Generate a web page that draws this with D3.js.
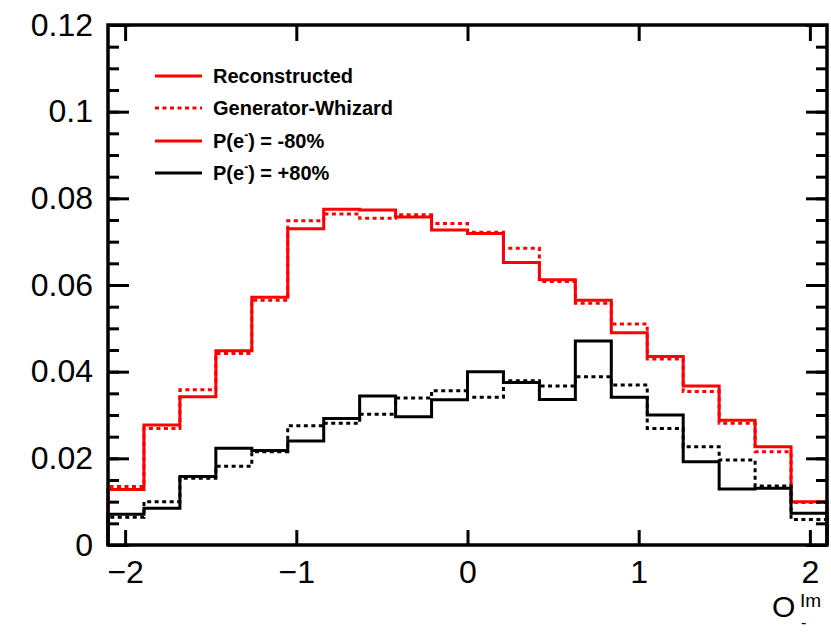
<!DOCTYPE html>
<html>
<head>
<meta charset="utf-8">
<script src="https://cdn.jsdelivr.net/npm/d3@7"></script>
<style>
  html, body { margin: 0; padding: 0; background: #fff; }
  svg { display: block; }
  text { font-family: "Liberation Sans", Arial, Helvetica, sans-serif; }
</style>
</head>
<body>
<svg id="chart" width="831" height="632"></svg>
<script>
// ---- data ----
const binEdges = [-2.1, -1.89, -1.68, -1.47, -1.26, -1.05, -0.84, -0.63, -0.42, -0.21, 0,
                  0.21, 0.42, 0.63, 0.84, 1.05, 1.26, 1.47, 1.68, 1.89, 2.1];
const redReco  = [0.0128, 0.0277, 0.0342, 0.0448, 0.0572, 0.0730, 0.0775, 0.0773, 0.0757, 0.0727,
                  0.0719, 0.0652, 0.0612, 0.0565, 0.0490, 0.0435, 0.0367, 0.0288, 0.0227, 0.0100];
const redGen   = [0.0135, 0.0269, 0.0358, 0.0442, 0.0565, 0.0748, 0.0764, 0.0754, 0.0762, 0.0742,
                  0.0722, 0.0685, 0.0608, 0.0558, 0.0510, 0.0429, 0.0354, 0.0281, 0.0215, 0.0098];
const blackReco = [0.0071, 0.0085, 0.0158, 0.0223, 0.0218, 0.0240, 0.0292, 0.0344, 0.0296, 0.0335,
                   0.0400, 0.0375, 0.0336, 0.0471, 0.0341, 0.0300, 0.0192, 0.0129, 0.0131, 0.0073];
const blackGen  = [0.0064, 0.0100, 0.0154, 0.0182, 0.0215, 0.0275, 0.0281, 0.0302, 0.0339, 0.0356,
                   0.0341, 0.0379, 0.0367, 0.0388, 0.0369, 0.0269, 0.0227, 0.0196, 0.0136, 0.0059];
const xTicks = [-2, -1, 0, 1, 2];
const xTickLabels = ["\u22122", "\u22121", "0", "1", "2"];
const yTicks = [0, 0.02, 0.04, 0.06, 0.08, 0.1, 0.12];
const yTickLabels = ["0", "0.02", "0.04", "0.06", "0.08", "0.1", "0.12"];
const yMinorTicks = d3.range(0, 0.1201, 0.005);
const legendLabels = ["Reconstructed", "Generator-Whizard", "P(e-) = -80%", "P(e-) = +80%"];

// ---- layout ----
const W = 831, H = 632;
const L = 108, T = 25, R = 827, B = 545;
const svg = d3.select("#chart");
svg.append("rect").attr("width", W).attr("height", H).attr("fill", "#fff");

const x = d3.scaleLinear().domain([-2.1, 2.1]).range([L, R]);
const y = d3.scaleLinear().domain([0, 0.12]).range([B, T]);

function histPoints(vals) {
  const pts = [[binEdges[0], 0]];
  vals.forEach((v, i) => { pts.push([binEdges[i], v]); pts.push([binEdges[i + 1], v]); });
  pts.push([binEdges[binEdges.length - 1], 0]);
  return pts;
}
const line = d3.line().x(d => x(d[0])).y(d => y(d[1]));

const series = [
  { vals: redReco, color: "#ff0000", dash: null },
  { vals: redGen, color: "#ff0000", dash: "4,3.5" },
  { vals: blackReco, color: "#000000", dash: null },
  { vals: blackGen, color: "#000000", dash: "4,3.5" }
];
const gPlot = svg.append("g");
series.forEach(s => {
  gPlot.append("path")
    .attr("d", line(histPoints(s.vals)))
    .attr("fill", "none")
    .attr("stroke", s.color)
    .attr("stroke-width", 3)
    .attr("stroke-dasharray", s.dash)
    .attr("stroke-linejoin", "miter");
});

// ---- axes ----
function styleAxis(g) {
  g.select(".domain").remove();
  g.selectAll(".tick line").attr("stroke", "#000").attr("stroke-width", 3);
  g.selectAll("text").attr("fill", "#000").style("font-size", "32px")
    .style("font-family", "'Liberation Sans', Arial, sans-serif");
}
// bottom
svg.append("g").attr("transform", `translate(0,${B})`)
  .call(d3.axisBottom(x).tickValues(xTicks).tickFormat((d, i) => xTickLabels[i])
        .tickSizeInner(-15).tickSizeOuter(0).tickPadding(15))
  .call(styleAxis);
// top
svg.append("g").attr("transform", `translate(0,${T})`)
  .call(d3.axisTop(x).tickValues(xTicks).tickFormat("").tickSizeInner(-16).tickSizeOuter(0))
  .call(styleAxis);
// left major
svg.append("g").attr("transform", `translate(${L},0)`)
  .call(d3.axisLeft(y).tickValues(yTicks).tickFormat((d, i) => yTickLabels[i])
        .tickSizeInner(-21).tickSizeOuter(0).tickPadding(15))
  .call(styleAxis);
// left minor
svg.append("g").attr("transform", `translate(${L},0)`)
  .call(d3.axisLeft(y).tickValues(yMinorTicks).tickFormat("").tickSizeInner(-11).tickSizeOuter(0))
  .call(styleAxis);
// right major + minor
svg.append("g").attr("transform", `translate(${R},0)`)
  .call(d3.axisRight(y).tickValues(yTicks).tickFormat("").tickSizeInner(-21).tickSizeOuter(0))
  .call(styleAxis);
svg.append("g").attr("transform", `translate(${R},0)`)
  .call(d3.axisRight(y).tickValues(yMinorTicks).tickFormat("").tickSizeInner(-11).tickSizeOuter(0))
  .call(styleAxis);

// frame
svg.append("rect").attr("x", L).attr("y", T).attr("width", R - L).attr("height", B - T)
  .attr("fill", "none").attr("stroke", "#000").attr("stroke-width", 3.5);

// ---- axis title O^{Im}_{-} ----
const title = svg.append("g").attr("fill", "#000");
title.append("text").attr("x", 772).attr("y", 617).style("font-size", "30px").text("O");
title.append("text").attr("x", 800).attr("y", 607).style("font-size", "19px").text("Im");
title.append("text").attr("x", 801).attr("y", 628).style("font-size", "16px").text("-");

// ---- legend ----
const legend = svg.append("g");
const legItems = [
  { color: "#ff0000", dash: null, ly: 76 },
  { color: "#ff0000", dash: "4,3.5", ly: 108 },
  { color: "#ff0000", dash: null, ly: 141 },
  { color: "#000000", dash: null, ly: 173 }
];
legItems.forEach((it, i) => {
  legend.append("line").attr("x1", 155).attr("x2", 202).attr("y1", it.ly).attr("y2", it.ly)
    .attr("stroke", it.color).attr("stroke-width", 3).attr("stroke-dasharray", it.dash);
  const t = legend.append("text").attr("x", 213).attr("y", it.ly + 7)
    .style("font-size", "20px").style("font-weight", "bold").attr("fill", "#000");
  const lab = legendLabels[i];
  if (lab.startsWith("P(e-)")) {
    t.append("tspan").text("P(e");
    t.append("tspan").attr("dy", -9).style("font-size", "12px").text("-");
    t.append("tspan").attr("dy", 9).text(lab.slice(4));
  } else {
    t.text(lab);
  }
});
</script>
</body>
</html>
